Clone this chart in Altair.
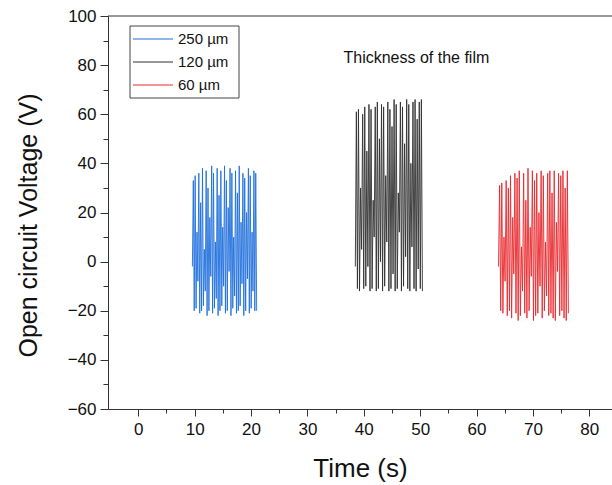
import altair as alt
import numpy as np
import pandas as pd

# ---- data ----
series_names = ["250 µm", "120 µm", "60 µm"]
series_colors = ["#1f6fdc", "#303030", "#e8282d"]

# time span of each burst (s)
span_250 = (9.6, 21.0)
span_120 = (38.5, 50.4)
span_60 = (63.9, 76.3)

# open circuit voltage samples (V)
v_250 = [-2, 33, -20, 35, -19, 12, -8, 36, -21, 24, -20, 38, -18, 5, -12, 37,
         -22, 30, -20, 18, -6, 39, -21, 36, -19, 8, -15, 38, -22, 27, -20, 37,
         -18, 14, -10, 39, -21, 33, -20, 22, -4, 38, -22, 36, -19, 10, -14, 37,
         -21, 28, -20, 39, -18, 16, -9, 36, -22, 34, -20, 20, -7, 38, -21, 35,
         -19, 12, -12, 37, -20, 36, -20]
v_120 = [-2, 61, -11, 62, -12, 30, 5, 60, -11, 63, -10, 45, -2, 64, -12, 62,
         -11, 25, 10, 63, -12, 65, -11, 50, 0, 64, -12, 63, -10, 35, 8, 65,
         -12, 62, -11, 55, -5, 66, -12, 64, -11, 28, 12, 65, -12, 63, -10, 48,
         2, 66, -11, 64, -12, 40, 6, 65, -11, 66, -12, 58, -3, 65, -11, 66, -12]
v_60 = [-2, 31, -20, 32, -21, 10, -8, 33, -22, 30, -20, 35, -23, 18, -5, 36,
        -21, 34, -24, 37, -22, 6, -12, 36, -21, 25, -23, 38, -20, 14, -6, 37,
        -24, 33, -22, 36, -21, 20, -10, 37, -23, 35, -20, 8, -14, 36, -22, 37,
        -21, 28, -23, 37, -24, 16, -4, 36, -22, 35, -20, 37, -23, 30, -24, 37, -21]

x_ticks = [0, 5, 10, 15, 20, 25, 30, 35, 40, 45, 50, 55, 60, 65, 70, 75, 80]
y_ticks = [-60, -50, -40, -30, -20, -10, 0, 10, 20, 30, 40, 50, 60, 70, 80, 90, 100]
annotation = "Thickness of the film"
ann_t, ann_v = 36.4, 83.0

rows = []
for name, span, vals in [(series_names[0], span_250, v_250),
                         (series_names[1], span_120, v_120),
                         (series_names[2], span_60, v_60)]:
    ts = np.linspace(span[0], span[1], len(vals))  # sampling instants
    for i, (t, v) in enumerate(zip(ts, vals)):
        rows.append({"t": float(t), "v": v, "series": name, "idx": i})
df = pd.DataFrame(rows)

FONT = "Liberation Sans"

def x_enc():
    return alt.X("t:Q",
                 scale=alt.Scale(domain=[-5.37, 84.03], nice=False, zero=False),
                 axis=alt.Axis(title="Time (s)", values=x_ticks, grid=False,
                               labelExpr="datum.value % 10 === 0 ? datum.label : ''",
                               tickSize={"condition": {"test": "datum.value % 10 === 0", "value": 7}, "value": 4},
                               tickColor="#333", domainColor="#333", labelColor="#111",
                               labelFont=FONT, labelFontSize=17, labelPadding=5,
                               labelFlush=False, labelOverlap=False,
                               titleFont=FONT, titleFontSize=26, titleFontWeight="normal",
                               titleColor="#111", titleBaseline="alphabetic", titleY=67))

def y_enc():
    return alt.Y("v:Q",
                 scale=alt.Scale(domain=[-60, 100], nice=False, zero=False),
                 axis=alt.Axis(title="Open circuit Voltage (V)", values=y_ticks, grid=False,
                               labelExpr="datum.value % 20 === 0 ? datum.label : ''",
                               tickSize={"condition": {"test": "datum.value % 20 === 0", "value": 8}, "value": 5},
                               tickColor="#333", domainColor="#333", labelColor="#111",
                               labelFont=FONT, labelFontSize=17, labelPadding=4,
                               labelFlush=False, labelOverlap=False,
                               titleFont=FONT, titleFontSize=25, titleFontWeight="normal",
                               titleColor="#111", titleAngle=-90, titleAlign="center",
                               titleBaseline="middle", titleX=-80, titleY=209))

color_scale = alt.Scale(domain=series_names, range=series_colors)

lines = alt.Chart(df).mark_line(strokeWidth=0.9, clip=True).encode(
    x=x_enc(),
    y=y_enc(),
    color=alt.Color("series:N", scale=color_scale, legend=None),
    detail="series:N",
    order="idx:Q",
)

ann_df = pd.DataFrame({"t": [ann_t], "v": [ann_v], "label": [annotation]})
text = alt.Chart(ann_df).mark_text(align="left", baseline="middle", font=FONT,
                                   fontSize=16, color="#111").encode(
    x=x_enc(), y=y_enc(), text="label:N")

top_rule = alt.Chart(pd.DataFrame({"a": [0]})).mark_rule(color="#333", strokeWidth=1).encode(
    x=alt.value(0), x2=alt.value(504), y=alt.value(0))

main = alt.layer(lines, text, top_rule)

# ---- legend (drawn as marks so that its rows can be packed as in the reference) ----
leg_df = pd.DataFrame({"series": series_names})
leg_y = alt.Y("series:N", scale=alt.Scale(type="point", domain=series_names,
                                          range=[23, 69], padding=0),
              axis=None)
leg_box = alt.Chart(pd.DataFrame({"a": [0]})).mark_rect(
    fill="white", stroke="#444", strokeWidth=1).encode(
    x=alt.value(22), x2=alt.value(131), y=alt.value(10), y2=alt.value(82))
leg_lines = alt.Chart(leg_df).mark_rule(strokeWidth=1.2).encode(
    x=alt.value(25), x2=alt.value(65), y=leg_y,
    color=alt.Color("series:N", scale=color_scale, legend=None))
leg_text = alt.Chart(leg_df).mark_text(align="left", baseline="middle", font=FONT,
                                       fontSize=15, color="#111").encode(
    x=alt.value(70), y=leg_y, text="series:N")
legend = alt.layer(leg_box, leg_lines, leg_text)

chart = alt.layer(main, legend).resolve_scale(y="independent").properties(
    width=504, height=393,
    autosize=alt.AutoSizeParams(type="none"),
    padding={"left": 108, "top": 16, "right": 0, "bottom": 76},
    background="white",
).configure_view(stroke=None)

chart.save("out.html", embed_options={"renderer": "svg", "actions": False})
